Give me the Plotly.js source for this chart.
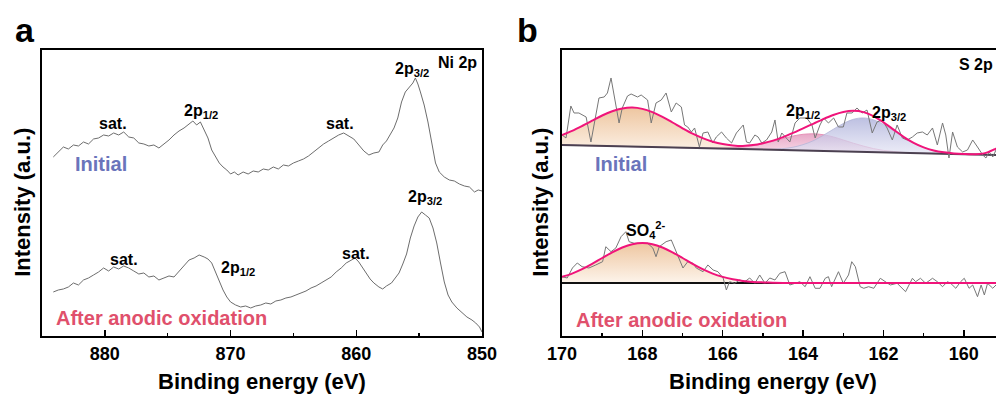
<!DOCTYPE html>
<html>
<head>
<meta charset="utf-8">
<script src="https://cdn.plot.ly/plotly-3.0.1.min.js"></script>
<style>html,body{margin:0;padding:0;background:#fff;}#chart{width:996px;height:399px;}</style>
</head>
<body>
<div id="chart"></div>
<script>
// ---------- Panel a: Ni 2p (binding energy eV, intensity a.u.) ----------
const niInitialE = [884.1,883.7,883.3,882.9,882.5,882.1,881.7,881.3,880.9,880.5,880.1,879.7,879.3,878.9,878.5,878.1,877.7,877.3,876.9,876.5,876.1,875.7,875.3,874.9,874.5,874.1,873.7,873.3,873.0,872.7,872.4,872.1,871.8,871.5,871.2,870.9,870.6,870.3,870.0,869.7,869.4,869.0,868.6,868.2,867.8,867.4,867.0,866.6,866.2,865.8,865.4,865.0,864.6,864.2,863.8,863.4,863.0,862.6,862.2,861.8,861.4,861.0,860.6,860.2,859.8,859.4,859.0,858.6,858.2,857.9,857.6,857.3,857.0,856.7,856.4,856.1,855.8,855.5,855.3,855.1,854.9,854.6,854.3,854.0,853.7,853.4,853.0,852.6,852.2,851.8,851.4,851.0,850.6,850.3,850.0];
const niInitialI = [179,184,189,187,191,190,194,192,197,198,201,200,203,201,204,199,198,193,192,190,191,188,192,196,201,205,208,212,215,211,214,206,198,186,179,173,169,166,162,164,161,164,162,165,164,167,166,169,167,171,170,173,175,177,180,184,188,192,195,198,201,203,200,197,191,185,181,183,184,191,195,201,208,218,234,244,249,253,258,252,244,231,214,193,173,164,159,156,155,152,150,149,144,146,145];
const niAfterE = [884.1,883.7,883.3,882.9,882.5,882.1,881.7,881.3,880.9,880.5,880.1,879.7,879.3,878.9,878.5,878.1,877.7,877.3,876.9,876.5,876.1,875.7,875.3,874.9,874.5,874.1,873.7,873.3,872.9,872.5,872.1,871.8,871.5,871.2,870.9,870.6,870.3,870.0,869.6,869.2,868.8,868.4,868.0,867.6,867.2,866.8,866.4,866.0,865.6,865.2,864.8,864.4,864.0,863.6,863.2,862.8,862.4,862.0,861.6,861.2,860.8,860.4,860.1,859.8,859.5,859.2,858.9,858.6,858.2,857.9,857.6,857.2,856.9,856.6,856.3,856.0,855.7,855.4,855.1,854.8,854.5,854.2,853.9,853.6,853.3,853.0,852.7,852.4,852.0,851.6,851.2,850.8,850.5,850.2,850.0];
const niAfterI = [44,46,47,49,53,51,56,58,61,64,68,65,69,67,70,68,65,62,63,59,60,56,58,60,59,65,70,76,78,81,79,77,73,64,55,46,39,34,31,29,30,28,30,31,33,32,35,36,38,39,41,43,45,48,50,53,56,59,64,68,73,76,78,74,68,62,57,53,49,47,50,53,58,63,72,82,98,110,119,124,121,118,108,93,73,54,41,34,28,23,19,16,13,9,4];
const niTicks = [880,870,860,850];

// ---------- Panel b: S 2p ----------
const sRawInitE = [170.0,169.9,169.78,169.7,169.58,169.4,169.28,169.08,168.95,168.87,168.78,168.66,168.58,168.5,168.37,168.28,168.12,168.03,167.95,167.87,167.78,167.66,167.53,167.41,167.28,167.16,167.03,166.95,166.87,166.78,166.7,166.58,166.49,166.37,166.25,166.16,166.03,165.91,165.78,165.66,165.49,165.41,165.33,165.2,165.12,165.03,164.91,164.78,164.7,164.62,164.53,164.45,164.33,164.2,164.08,163.91,163.78,163.7,163.58,163.49,163.37,163.24,163.12,163.0,162.91,162.78,162.66,162.53,162.41,162.28,162.16,162.03,161.91,161.78,161.66,161.53,161.41,161.28,161.16,161.03,160.91,160.78,160.66,160.53,160.45,160.37,160.28,160.16,160.03,159.91,159.78,159.66,159.53,159.45,159.37,159.28,159.2];
const sRawInitI = [201,198,230,223,223,219,194,238,239,243,258,229,213,228,240,242,239,241,238,236,213,233,236,243,224,233,229,211,209,204,208,189,203,204,193,199,204,198,193,203,211,194,193,201,199,193,196,204,216,194,203,199,194,213,218,218,211,198,211,218,213,218,209,209,223,223,228,223,226,203,214,216,208,196,211,198,196,199,203,204,201,208,191,213,201,178,204,189,184,186,196,189,181,178,184,179,186];
const sRawAftE = [170.0,169.87,169.74,169.62,169.5,169.33,169.16,168.99,168.91,168.78,168.66,168.53,168.41,168.33,168.2,168.03,167.87,167.74,167.66,167.58,167.41,167.28,167.12,166.99,166.87,166.74,166.66,166.49,166.37,166.24,166.12,165.99,165.91,165.83,165.7,165.58,165.45,165.33,165.2,165.08,164.95,164.83,164.7,164.58,164.45,164.33,164.2,164.08,163.95,163.83,163.7,163.58,163.45,163.37,163.29,163.12,163.0,162.87,162.79,162.7,162.58,162.49,162.37,162.24,162.08,161.95,161.83,161.66,161.58,161.45,161.28,161.2,161.08,160.95,160.78,160.66,160.53,160.41,160.33,160.2,160.08,159.99,159.87,159.78,159.66,159.57,159.49,159.41,159.28,159.2];
const sRawAftI = [59.3,58,68,73,69.3,68,71,74.3,89.3,84.3,88,99.3,104.3,94.3,92.7,92.7,92.7,88,79.3,89.3,94.3,96,81,68,74.3,72.7,68,64.3,71,66,64.3,58,46,54.3,52.7,56,54.3,58,52.7,61,52.7,58,56,62.7,64.3,51,52.7,54.3,49.3,59.3,47.7,47.7,57.7,59.3,49.3,64.3,52.7,61,74.3,69.3,49.3,47.7,49.3,47.7,57.7,54.3,51,52.7,49.3,44.3,57.7,54.3,57.7,52.7,57.7,54.3,49.3,54.3,52.7,47.7,54.3,57.7,47.7,51,39.3,51,41,52.7,47.7,51];

// fitted curves (common energy grid)
const fitE = [170,169.75,169.5,169.25,169,168.75,168.5,168.25,168,167.75,167.5,167.25,167,166.75,166.5,166.25,166,165.75,165.5,165.25,165,164.75,164.5,164.25,164,163.75,163.5,163.25,163,162.75,162.5,162.25,162,161.75,161.5,161.25,161,160.75,160.5,160.25,160,159.75,159.5,159.25,159];
const bgInit = [191.0,190.8,190.5,190.3,190.1,189.8,189.6,189.4,189.2,188.9,188.7,188.5,188.2,188.0,187.8,187.5,187.3,187.1,186.8,186.6,186.4,186.1,185.9,185.7,185.5,185.2,185.0,184.8,184.5,184.3,184.1,183.8,183.6,183.4,183.1,182.9,182.7,182.4,182.2,182.0,181.8,181.5,181.3,181.1,180.8];
const sulfateInit = [201.0,205.1,210.0,215.3,220.5,224.7,227.5,228.4,227.1,223.8,219.1,213.5,207.7,202.3,197.8,194.1,191.4,189.5,188.1,187.3,186.7,186.3,186.0,185.7,185.5,185.2,185.0,184.8,184.5,184.3,184.1,183.8,183.6,183.4,183.1,182.9,182.7,182.4,182.2,182.0,181.8,181.5,181.3,181.1,180.8];
const p12Init = [191.0,190.8,190.5,190.3,190.1,189.8,189.6,189.4,189.2,188.9,188.7,188.5,188.2,188.0,187.8,187.7,187.8,188.2,188.8,190.2,192.2,194.6,197.4,200.0,201.7,202.2,201.3,199.1,196.0,192.8,189.9,187.4,185.6,184.5,183.6,183.1,182.8,182.4,182.2,182.0,181.8,181.5,181.3,181.1,180.8];
const p32Init = [191.0,190.8,190.5,190.3,190.1,189.8,189.6,189.4,189.2,188.9,188.7,188.5,188.2,188.0,187.8,187.5,187.3,187.1,186.8,186.6,186.6,186.8,187.4,188.8,191.4,195.2,200.6,206.7,212.5,216.7,218.1,216.2,211.6,205.3,198.7,192.9,188.6,185.5,183.7,182.6,182.0,181.5,181.3,181.1,180.8];
const envInit = [201.0,205.1,210.0,215.3,220.5,224.7,227.5,228.4,227.1,223.8,219.1,213.5,207.7,202.3,197.9,194.3,191.9,190.6,190.1,190.9,192.8,195.4,198.9,203.1,207.7,212.2,216.9,221.0,224.0,225.2,223.9,219.8,213.6,206.4,199.2,193.1,188.6,185.5,183.7,182.6,182.0,181.8,182.6,186.5,192.0];
const bgAft = [53,53,53,53,53,53,53,53,53,53,53,53,53,53,53,53,53,53,53,53,53,53,53,53,53,53,53,53,53,53,53,53,53,53,53,53,53,53,53,53,53,53,53,53,53];
const sulfateAft = [59.1,62.4,66.8,72.1,78.0,83.7,88.5,91.8,93.0,91.8,88.5,83.7,78.0,72.1,66.8,62.4,59.1,56.7,55.1,54.1,53.6,53.3,53.1,53,53,53,53,53,53,53,53,53,53,53,53,53,53,53,53,53,53,53,53,53,53];
const sTicks = [170,168,166,164,162,160];

const FONT = 'Arial, "Liberation Sans", Helvetica, sans-serif';
const GRAY = '#6d6d6d';
const ENV = '#f0147a';

function fillGrad(lo, hi){ return {type:'vertical', colorscale:[[0,lo],[1,hi]]}; }
const base = (x,y,xa,ya) => ({x:x,y:y,xaxis:xa,yaxis:ya,mode:'lines',line:{width:0,color:'rgba(0,0,0,0)'},hoverinfo:'skip'});

const traces = [
  // panel a
  {x:niInitialE,y:niInitialI,xaxis:'x',yaxis:'y',mode:'lines',line:{color:GRAY,width:1}},
  {x:niAfterE,y:niAfterI,xaxis:'x',yaxis:'y',mode:'lines',line:{color:GRAY,width:1}},
  // panel b initial fills
  base(fitE,bgInit,'x2','y2'),
  {x:fitE,y:sulfateInit,xaxis:'x2',yaxis:'y2',mode:'lines',line:{width:0,shape:'spline',color:'rgba(0,0,0,0)'},fill:'tonexty',fillcolor:'rgba(240,200,160,0.8)',fillgradient:fillGrad('rgba(253,243,233,0.9)','rgba(236,192,150,0.9)')},
  base(fitE,bgInit,'x2','y2'),
  {x:fitE,y:p12Init,xaxis:'x2',yaxis:'y2',mode:'lines',line:{width:1,shape:'spline',color:'rgba(230,140,180,0.9)'},fill:'tonexty',fillcolor:'rgba(230,160,195,0.7)',fillgradient:fillGrad('rgba(246,214,228,0.75)','rgba(226,145,185,0.8)')},
  base(fitE,bgInit,'x2','y2'),
  {x:fitE,y:p32Init,xaxis:'x2',yaxis:'y2',mode:'lines',line:{width:0.8,shape:'spline',color:'rgba(175,178,215,0.9)'},fill:'tonexty',fillcolor:'rgba(185,188,225,0.7)',fillgradient:fillGrad('rgba(230,230,245,0.7)','rgba(172,176,218,0.8)')},
  {x:fitE,y:bgInit,xaxis:'x2',yaxis:'y2',mode:'lines',line:{color:'#4b4050',width:2}},
  {x:sRawInitE,y:sRawInitI,xaxis:'x2',yaxis:'y2',mode:'lines',line:{color:'#777',width:1}},
  {x:fitE,y:envInit,xaxis:'x2',yaxis:'y2',mode:'lines',line:{color:ENV,width:2,shape:'spline'}},
  // panel b after
  base(fitE,bgAft,'x2','y2'),
  {x:fitE,y:sulfateAft,xaxis:'x2',yaxis:'y2',mode:'lines',line:{width:0,shape:'spline',color:'rgba(0,0,0,0)'},fill:'tonexty',fillcolor:'rgba(240,200,160,0.8)',fillgradient:fillGrad('rgba(253,243,233,0.9)','rgba(236,192,150,0.9)')},
  {x:fitE,y:bgAft,xaxis:'x2',yaxis:'y2',mode:'lines',line:{color:'#111',width:2}},
  {x:sRawAftE,y:sRawAftI,xaxis:'x2',yaxis:'y2',mode:'lines',line:{color:'#777',width:1}},
  {x:fitE,y:sulfateAft,xaxis:'x2',yaxis:'y2',mode:'lines',line:{color:ENV,width:2,shape:'spline'}}
];

const yDom = [0.1579, 0.8747];
const tickFont = {family:FONT,size:18,color:'#000',weight:'bold'};
function xAxis(dom, range, tickvals, minorDt){
  return {domain:dom, range:range, autorange:false, showline:true, linecolor:'#000', linewidth:2, mirror:true,
    ticks:'inside', ticklen:6, tickwidth:1.5, tickcolor:'#000', tickvals:tickvals, ticktext:tickvals.map(String),
    minor:{ticks:'inside', ticklen:3, tickwidth:1.5, tickcolor:'#000', dtick:minorDt},
    showgrid:false, zeroline:false, tickfont:tickFont, fixedrange:true};
}
function yAxis(anchor, mirror){
  return {domain:yDom, range:[0,286], autorange:false, showline:true, linecolor:'#000', linewidth:2, mirror:mirror,
    showticklabels:false, ticks:'', showgrid:false, zeroline:false, anchor:anchor, fixedrange:true};
}

const lab = (x,y,xr,yr,text,size,color,extra) => Object.assign({x:x,y:y,xref:xr,yref:yr,text:text,showarrow:false,
  font:{family:FONT,size:size,color:color||'#000',weight:'bold'},xanchor:'center',yanchor:'middle'}, extra||{});

const annotations = [
  lab(0.025,0.925,'paper','paper','a',34),
  lab(0.530,0.925,'paper','paper','b',34),
  lab(0.263,0.043,'paper','paper','Binding energy (eV)',22),
  lab(0.776,0.043,'paper','paper','Binding energy (eV)',22),
  lab(0.023,0.494,'paper','paper','Intensity (a.u.)',22,'#000',{textangle:-90}),
  lab(0.543,0.494,'paper','paper','Intensity (a.u.)',22,'#000',{textangle:-90}),
  // panel a
  lab(851.96,273,'x','y','Ni 2p',16),
  lab(855.56,266,'x','y','2p<sub>3/2</sub>',16),
  lab(872.36,224,'x','y','2p<sub>1/2</sub>',16),
  lab(879.32,212,'x','y','sat.',16),
  lab(861.32,212,'x','y','sat.',16),
  lab(880.28,172,'x','y','Initial',20,'#6a74bb'),
  lab(854.52,138,'x','y','2p<sub>3/2</sub>',16),
  lab(878.44,76,'x','y','sat.',16),
  lab(869.4,67,'x','y','2p<sub>1/2</sub>',16),
  lab(860.04,82,'x','y','sat.',16),
  lab(875.48,18,'x','y','After anodic oxidation',20,'#e0506c'),
  // panel b
  lab(159.7,271,'x2','y2','S 2p',16),
  lab(164.0,224,'x2','y2','2p<sub>1/2</sub>',16),
  lab(161.875,222,'x2','y2','2p<sub>3/2</sub>',16),
  lab(168.53,172,'x2','y2','Initial',20,'#6a74bb'),
  lab(167.9,106,'x2','y2','SO<sub>4</sub><sup>2-</sup>',16),
  lab(167.03,16,'x2','y2','After anodic oxidation',20,'#e0506c')
];

const layout = {
  width:996, height:399, margin:{l:0,r:0,t:0,b:0}, paper_bgcolor:'#fff', plot_bgcolor:'rgba(0,0,0,0)',
  showlegend:false, hovermode:false, font:{family:FONT,color:'#000'},
  xaxis: Object.assign(xAxis([42/996, 482/996],[885,850],niTicks,5),{anchor:'y'}),
  yaxis: yAxis('x', true),
  xaxis2: Object.assign(xAxis([562/996, 1],[170,159.2],sTicks,1),{anchor:'y2'}),
  yaxis2: yAxis('x2', false),
  annotations: annotations
};

Plotly.newPlot('chart', traces, layout, {displayModeBar:false, staticPlot:true});
</script>
</body>
</html>
